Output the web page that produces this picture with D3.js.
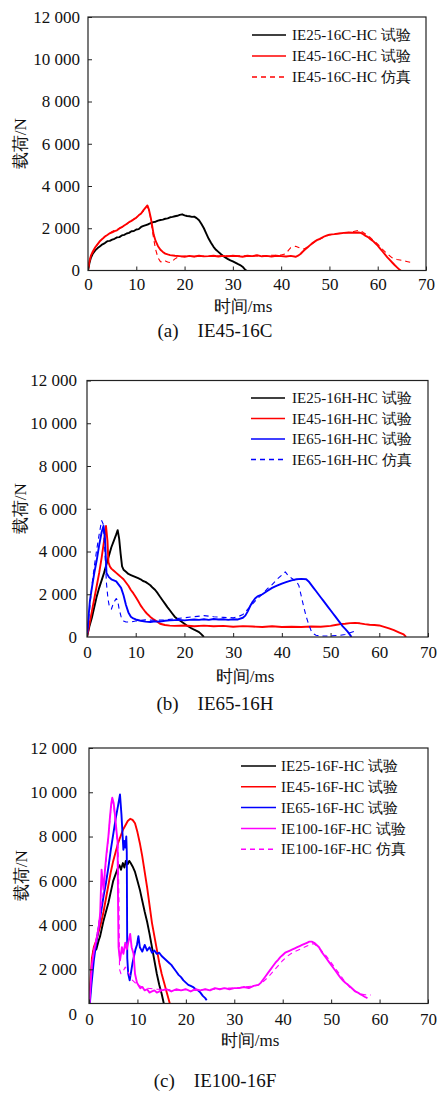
<!DOCTYPE html>
<html><head><meta charset="utf-8">
<script src="https://cdn.jsdelivr.net/npm/d3@7"></script>
<style>
body{margin:0;background:#fff}
svg text{font-family:"Liberation Serif","DejaVu Serif","Noto Serif",serif;fill:#111}
</style></head><body>
<svg id="chart" width="437" height="1093"></svg>
<script>
// ---------- shared axis data ----------
const xTicks = [0,10,20,30,40,50,60,70];
const yTicks = [0,2000,4000,6000,8000,10000,12000];
const xTitle = "时间/ms";
const yTitle = "载荷/N";

// ---------- panel (a) ----------
const aCaption = "(a)    IE45-16C";
const aLegend = ["IE25-16C-HC 试验","IE45-16C-HC 试验","IE45-16C-HC 仿真"];
const a_IE25_exp = [[0,0],[0.3,350],[0.6,600],[1,800],[1.5,950],[2,1060],[2.5,1150],[3,1240],[3.5,1300],[4,1390],[4.5,1400],[5,1460],[5.5,1500],[6,1570],[6.5,1580],[7,1660],[7.5,1690],[8,1750],[8.5,1780],[9,1860],[9.5,1870],[10,1940],[10.5,1960],[11,2060],[11.5,2110],[12,2150],[12.5,2190],[13,2240],[13.5,2290],[14,2310],[14.5,2360],[15,2390],[15.5,2410],[16,2450],[16.5,2470],[17,2520],[17.5,2540],[18,2570],[18.5,2590],[19,2630],[19.5,2660],[20,2610],[20.5,2580],[21,2570],[21.5,2540],[22,2550],[22.5,2480],[23,2380],[23.5,2200],[24,2000],[24.5,1750],[25,1500],[25.5,1300],[26,1120],[26.5,980],[27,880],[27.5,780],[28,690],[28.5,610],[29,540],[29.5,480],[30,430],[30.5,370],[31,310],[31.5,260],[32,180],[32.5,50],[32.8,0]];
const a_IE45_exp = [[0,0],[0.3,450],[0.6,700],[1,900],[1.5,1100],[2,1250],[2.5,1400],[3,1500],[3.5,1610],[4,1680],[4.5,1760],[5,1800],[5.5,1860],[6,1900],[6.5,1990],[7,2050],[7.5,2130],[8,2200],[8.5,2290],[9,2350],[9.5,2430],[10,2500],[10.5,2610],[11,2700],[11.5,2860],[12,3000],[12.3,3080],[12.6,2900],[13,2500],[13.3,2100],[13.6,1700],[14,1400],[14.5,1150],[15,980],[15.5,880],[16,800],[16.5,760],[17,730],[18,700],[19,680],[20,650],[21,690],[22,660],[23,700],[24,670],[25,680],[26,700],[27,660],[28,690],[29,670],[30,700],[31,680],[32,650],[33,700],[34,680],[35,720],[36,670],[37,690],[38,660],[39,700],[40,680],[41,660],[42,690],[43,650],[43.5,700],[44,780],[44.5,900],[45,1000],[45.5,1100],[46,1200],[46.5,1300],[47,1380],[47.5,1450],[48,1500],[48.5,1560],[49,1620],[49.5,1660],[50,1700],[51,1720],[52,1750],[53,1780],[54,1800],[55,1790],[56,1800],[56.5,1780],[57,1720],[57.5,1640],[58,1580],[58.5,1480],[59,1400],[59.5,1290],[60,1180],[60.5,1040],[61,900],[61.5,760],[62,620],[62.5,500],[63,380],[63.5,260],[64,150],[64.5,40],[64.8,0]];
const a_IE45_sim = [[0,0],[0.5,600],[1,850],[2,1250],[3,1500],[4,1700],[5,1850],[6,1950],[7,2050],[8,2200],[9,2350],[10,2500],[11,2700],[12,2950],[12.4,3000],[12.8,2700],[13.2,2100],[13.6,1500],[14,1000],[14.5,600],[15,420],[15.5,380],[16,450],[16.5,400],[17,380],[17.5,450],[18,550],[18.5,620],[19,650],[20,680],[22,650],[24,680],[26,670],[28,700],[30,690],[32,700],[34,680],[36,700],[38,720],[40,730],[41,800],[41.5,950],[42,1080],[42.5,1100],[43,1150],[43.5,1100],[44,1050],[44.5,1000],[45,1050],[46,1200],[47,1350],[48,1480],[49,1600],[50,1680],[51,1720],[52,1750],[53,1780],[54,1800],[55,1850],[56,1900],[56.5,1880],[57,1800],[58,1650],[59,1450],[60,1250],[61,1000],[62,780],[63,600],[64,520],[65,480],[66,430],[67,380],[67.5,330]];

// ---------- panel (b) ----------
const bCaption = "(b)    IE65-16H";
const bLegend = ["IE25-16H-HC 试验","IE45-16H-HC 试验","IE65-16H-HC 试验","IE65-16H-HC 仿真"];
const b_IE25_exp = [[0,0],[0.5,500],[1,900],[1.5,1400],[2,1900],[2.5,2300],[3,2650],[3.5,3000],[4,3400],[4.5,3800],[5,4200],[5.5,4500],[6,4800],[6.3,5000],[6.6,4600],[6.9,3900],[7.2,3300],[7.5,3150],[8,3050],[8.5,2950],[9,2900],[9.5,2850],[10,2800],[10.5,2750],[11,2700],[11.5,2620],[12,2580],[12.5,2500],[13,2420],[13.5,2300],[14,2200],[14.5,2050],[15,1880],[15.5,1720],[16,1560],[16.5,1400],[17,1250],[17.5,1100],[18,950],[18.5,850],[19,780],[19.5,700],[20,620],[20.5,540],[21,470],[21.5,400],[22,340],[22.5,290],[23,230],[23.5,120],[24,0]];
const b_IE45_exp = [[0,0],[0.5,600],[1,1200],[1.5,1800],[2,2400],[2.5,3000],[3,3700],[3.5,4500],[3.9,5200],[4.2,4500],[4.4,3500],[4.7,3300],[5,3200],[5.5,3100],[6,3000],[6.5,2900],[7,2800],[7.5,2700],[8,2550],[8.5,2400],[9,2200],[9.5,2050],[10,1870],[10.5,1680],[11,1480],[11.5,1320],[12,1170],[12.5,1050],[13,940],[13.5,850],[14,780],[14.5,700],[15,620],[16,560],[17,530],[18,520],[20,540],[22,500],[24,530],[26,500],[28,520],[30,480],[32,510],[34,490],[36,470],[38,500],[40,470],[42,480],[44,470],[46,490],[48,480],[50,520],[51,560],[52,600],[53,620],[54,650],[55,660],[56,640],[57,600],[58,570],[59,560],[60,540],[61,470],[62,400],[63,320],[64,220],[65,120],[65.5,0]];
const b_IE65_exp = [[0,0],[0.3,900],[0.6,1700],[1,2300],[1.5,3000],[2,3600],[2.5,4300],[3,4900],[3.4,5200],[3.7,4600],[4,3000],[4.5,2800],[5,2700],[5.5,2650],[6,2600],[6.5,2450],[7,2300],[7.5,1950],[8,1500],[8.5,1150],[9,950],[9.5,870],[10,820],[11,760],[12,720],[13,700],[14,730],[15,720],[16,760],[17,780],[18,790],[19,800],[20,780],[21,800],[22,820],[23,800],[24,830],[25,800],[26,840],[27,820],[28,830],[29,800],[30,830],[31,820],[32,900],[32.5,1000],[33,1200],[33.5,1450],[34,1650],[34.5,1800],[35,1900],[36,2000],[37,2150],[38,2300],[39,2400],[40,2500],[41,2580],[42,2650],[43,2700],[44,2720],[45,2700],[45.5,2600],[46,2450],[46.5,2300],[47,2150],[47.5,2000],[48,1850],[48.5,1700],[49,1550],[49.5,1400],[50,1250],[50.5,1100],[51,950],[51.5,800],[52,650],[52.5,500],[53,380],[53.5,250],[54,100],[54.3,0]];
const b_IE65_sim = [[0,0],[0.5,1200],[1,2400],[1.5,3300],[2,4100],[2.5,4800],[3,5450],[3.3,5300],[3.6,4300],[4,2500],[4.3,1800],[4.6,1400],[5,1300],[5.3,1500],[5.6,1650],[6,1800],[6.3,1700],[6.6,1300],[7,950],[7.5,750],[8,700],[9,700],[10,750],[12,800],[14,780],[16,800],[18,850],[20,900],[22,950],[24,1000],[26,950],[28,920],[30,900],[31,950],[32,1050],[33,1300],[34,1550],[35,1800],[36,2000],[37,2250],[38,2450],[39,2700],[40,2900],[40.7,3050],[41.2,2900],[42,2750],[43,2600],[43.5,2400],[44,1900],[44.5,1400],[45,950],[45.5,600],[46,300],[46.5,150],[47,80],[48,50],[50,50],[52,80],[53,120],[54,200],[55,280],[55.5,300]];

// ---------- panel (c) ----------
const cCaption = "(c)    IE100-16F";
const cLegend = ["IE25-16F-HC 试验","IE45-16F-HC 试验","IE65-16F-HC 试验","IE100-16F-HC 试验","IE100-16F-HC 仿真"];
const c_IE25_exp = [[0,0],[0.3,1200],[0.6,2000],[0.9,2800],[1.2,3000],[1.5,2900],[2,3300],[2.3,3500],[2.7,3900],[3,4200],[3.5,4600],[4,5000],[4.5,5500],[5,6000],[5.5,6300],[6,6600],[6.3,6700],[6.6,6500],[7,6800],[7.3,6600],[7.6,6900],[8,6750],[8.3,6900],[8.6,6800],[9,6650],[9.5,6400],[10,6000],[10.5,5600],[11,5100],[11.5,4600],[12,4150],[12.5,3600],[13,3000],[13.5,2400],[14,1800],[14.5,1300],[15,900],[15.3,600],[15.6,300]];
const c_IE45_exp = [[0,0],[0.3,1500],[0.6,2500],[1,3000],[1.5,3300],[2,3700],[2.5,4100],[3,4600],[3.5,5200],[4,5800],[4.5,6400],[5,6900],[5.5,7300],[6,7700],[6.5,8000],[7,8300],[7.5,8500],[8,8700],[8.5,8800],[9,8750],[9.5,8600],[10,8200],[10.5,7700],[11,7100],[11.5,6400],[12,5700],[12.5,4900],[13,4100],[13.5,3500],[14,2900],[14.5,2300],[15,1800],[15.5,1400],[16,1000],[16.5,600],[17,200]];
const c_IE65_exp = [[0,0],[0.5,1300],[1,2400],[1.5,3200],[2,3900],[2.5,4600],[3,5300],[3.5,5900],[4,6600],[4.5,7400],[5,8100],[5.5,8800],[6,9400],[6.4,9900],[6.7,9000],[6.9,8200],[7.1,7400],[7.3,7800],[7.5,7500],[7.7,8000],[7.8,7300],[7.9,2500],[8.1,1800],[8.4,1500],[8.7,1900],[9,2300],[9.3,2600],[9.6,2900],[9.9,3100],[10.2,3500],[10.5,3000],[11,2800],[11.5,3100],[12,2850],[12.5,3000],[13,2750],[13.5,2850],[14,2700],[14.5,2750],[15,2600],[15.5,2500],[16,2400],[16.5,2300],[17,2200],[17.5,2050],[18,1900],[18.5,1750],[19,1650],[19.5,1500],[20,1400],[20.5,1300],[21,1250],[21.5,1200],[22,1100],[22.5,1050],[23,950],[23.5,800],[24,700],[24.3,600]];
const c_IE100_exp = [[0,0],[0.3,1200],[0.6,2200],[1,2800],[1.5,3300],[2,3900],[2.3,4500],[2.6,6500],[2.8,6000],[3,5600],[3.3,6500],[3.6,7200],[4,8000],[4.3,8800],[4.6,9500],[4.8,9750],[5.1,9500],[5.4,8900],[5.7,8200],[5.9,7800],[6,5000],[6.1,3000],[6.4,2400],[6.8,3000],[7.1,2700],[7.5,3200],[7.8,2900],[8.2,3300],[8.5,3600],[8.8,3000],[9.2,2700],[9.5,1800],[9.9,1400],[10.3,1250],[10.6,1150],[11,1200],[11.5,1050],[12,1100],[12.5,950],[13,1000],[13.5,1050],[14,950],[15,1050],[16,1100],[17,1000],[18,1100],[19,1050],[20,1100],[21,1000],[22,1100],[23,1050],[24,1100],[25,1050],[26,1150],[27,1100],[28,1150],[29,1100],[30,1150],[31,1150],[32,1200],[33,1150],[34,1250],[35,1300],[35.5,1400],[36,1550],[36.5,1700],[37,1850],[37.5,2000],[38,2150],[38.5,2300],[39,2420],[39.5,2550],[40,2650],[40.5,2750],[41,2800],[41.5,2850],[42,2900],[42.5,2950],[43,3000],[43.5,3050],[44,3100],[44.5,3150],[45,3200],[45.5,3250],[46,3250],[46.5,3200],[47,3100],[47.5,3000],[48,2800],[48.5,2650],[49,2500],[49.5,2350],[50,2200],[50.5,2050],[51,1900],[51.5,1750],[52,1600],[52.5,1480],[53,1380],[53.5,1300],[54,1200],[54.5,1100],[55,1000],[55.5,950],[56,880],[56.5,820],[57,750],[57.5,700]];
const c_IE100_sim = [[0,0],[0.3,1300],[0.6,2300],[1,2900],[1.5,3400],[2,4000],[2.5,4800],[3,5600],[3.5,6800],[4,8000],[4.5,9200],[4.8,9700],[5.1,9400],[5.4,8800],[5.7,8000],[6,7500],[6.2,5000],[6.3,2000],[6.6,1800],[7,1900],[7.5,2100],[8,1900],[8.5,1700],[9,1500],[9.5,1400],[10,1300],[11,1200],[12,1150],[14,1100],[16,1100],[18,1050],[20,1100],[22,1050],[24,1100],[26,1100],[28,1150],[30,1150],[32,1200],[34,1250],[35,1300],[36,1450],[37,1650],[38,1900],[39,2150],[40,2400],[41,2600],[42,2750],[43,2850],[44,2950],[45,3050],[46,3150],[46.5,3150],[47,3050],[48,2850],[49,2600],[50,2300],[51,2000],[52,1700],[53,1400],[54,1150],[55,1000],[56,900],[57,850],[58.2,840]];

// ---------- layout / style ----------
const RED="#ff0000", BLUE="#0000ff", MAG="#ff00ff", BLK="#000000";
const SERIF = '"Liberation Serif","DejaVu Serif","Noto Serif",serif';
const panels = [
  {id:"a", x0:88, x1:426, yZero:270.5, yTop:17, floor:0, yLabGap:8, xLabPad:7,
   xTitleX:243, xTitleY:306, capY:330, yTitleX:20,
   legX:252, legY:35, legDy:21, legLine:34, legText:6,
   legend:aLegend, caption:aCaption,
   series:[{d:a_IE25_exp,c:BLK},{d:a_IE45_exp,c:RED},{d:a_IE45_sim,c:RED,dash:true}]},
  {id:"b", x0:87, x1:428, yZero:637, yTop:380.5, floor:0, yLabGap:10, xLabPad:9,
   xTitleX:245, xTitleY:676, capY:703, yTitleX:20,
   legX:251, legY:398, legDy:20.5, legLine:34, legText:7,
   legend:bLegend, caption:bCaption,
   series:[{d:b_IE25_exp,c:BLK},{d:b_IE45_exp,c:RED},{d:b_IE65_exp,c:BLUE},{d:b_IE65_sim,c:BLUE,dash:true}]},
  {id:"c", x0:89, x1:428, yZero:1013.6, yTop:748, floor:457, yLabGap:12, xLabPad:9,
   xTitleX:250, xTitleY:1040, capY:1080, yTitleX:21,
   legX:241, legY:766, legDy:20.8, legLine:35, legText:5,
   legend:cLegend, caption:cCaption,
   series:[{d:c_IE25_exp,c:BLK},{d:c_IE45_exp,c:RED},{d:c_IE65_exp,c:BLUE},{d:c_IE100_exp,c:MAG},{d:c_IE100_sim,c:MAG,dash:true}]}
];

const svg = d3.select("#chart");
const fmt = v => d3.format(",")(v).replace(/,/g," ");

panels.forEach(p => {
  const g = svg.append("g");
  const x = d3.scaleLinear().domain([0,70]).range([p.x0,p.x1]);
  const y = d3.scaleLinear().domain([0,12000]).range([p.yZero,p.yTop]);
  const yBot = y(p.floor);

  svg.append("clipPath").attr("id","clip"+p.id).append("rect")
    .attr("x",p.x0).attr("y",p.yTop).attr("width",p.x1-p.x0).attr("height",yBot-p.yTop);

  const line = d3.line().x(d=>x(d[0])).y(d=>y(d[1]));
  const plot = g.append("g").attr("clip-path",`url(#clip${p.id})`);
  p.series.forEach(s => {
    plot.append("path").attr("d",line(s.d)).attr("fill","none")
      .attr("stroke",s.c).attr("stroke-width",s.dash?1.1:1.9)
      .attr("stroke-linejoin","round")
      .attr("stroke-dasharray",s.dash?"5,4":null);
  });

  const xAxis = d3.axisBottom(x).tickValues(xTicks).tickSizeInner(-4).tickSizeOuter(0).tickPadding(p.xLabPad);
  const gx = g.append("g").attr("transform",`translate(0,${yBot})`).call(xAxis);
  const yAxis = d3.axisLeft(y).tickValues(yTicks).tickSizeInner(-4).tickSizeOuter(0).tickPadding(p.yLabGap).tickFormat(fmt);
  const gy = g.append("g").attr("transform",`translate(${p.x0},0)`).call(yAxis);
  [gx,gy].forEach(a=>{
    a.attr("font-family",SERIF).attr("font-size",17);
    a.select(".domain").remove();
    a.selectAll("text").attr("fill","#111");
    a.selectAll("line").attr("stroke","#222");
  });
  gy.selectAll(".tick").filter(d=>d<=p.floor).select("line").remove();

  g.append("rect").attr("x",p.x0).attr("y",p.yTop).attr("width",p.x1-p.x0).attr("height",yBot-p.yTop)
    .attr("fill","none").attr("stroke","#222").attr("stroke-width",1.2);

  g.append("text").attr("x",p.xTitleX).attr("y",p.xTitleY).attr("dy","0.35em")
    .attr("text-anchor","middle").attr("font-size",17).text(xTitle);
  g.append("text").attr("transform",`translate(${p.yTitleX},${(p.yTop+yBot)/2}) rotate(-90)`)
    .attr("dy","0.35em").attr("text-anchor","middle").attr("font-size",17).text(yTitle);
  g.append("text").attr("x",215).attr("y",p.capY).attr("dy","0.35em")
    .attr("text-anchor","middle").attr("font-size",19).style("white-space","pre").text(p.caption);

  p.legend.forEach((t,i)=>{
    const s = p.series[i];
    const ly = p.legY + i*p.legDy;
    g.append("line").attr("x1",p.legX).attr("x2",p.legX+p.legLine).attr("y1",ly).attr("y2",ly)
      .attr("stroke",s.c).attr("stroke-width",1.5).attr("stroke-dasharray",s.dash?"5,4":null);
    g.append("text").attr("x",p.legX+p.legLine+p.legText).attr("y",ly).attr("dy","0.35em")
      .attr("font-size",15).style("white-space","pre").text(t);
  });
});
</script>
</body></html>
